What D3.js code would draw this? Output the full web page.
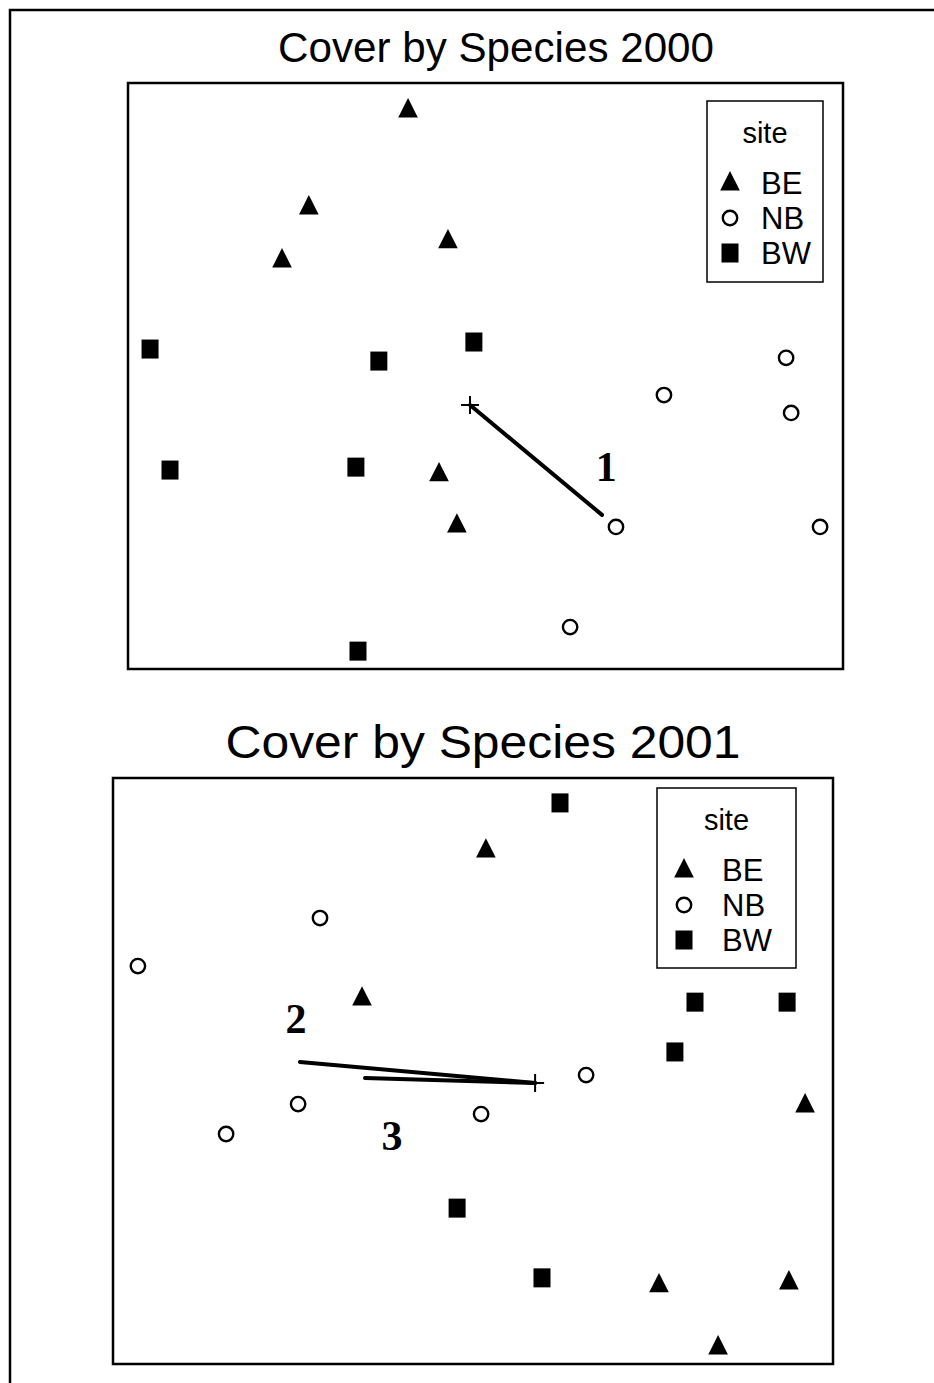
<!DOCTYPE html>
<html>
<head>
<meta charset="utf-8">
<script src="https://cdn.jsdelivr.net/npm/d3@7"></script>
<style>
  body { margin: 0; background: #fff; }
  svg { font-family: "Liberation Sans", Arial, sans-serif; }
</style>
</head>
<body>
<div id="canvas-div"></div>
<script>
// NMDS scores (arbitrary ordination units)
const sites = ['BE', 'NB', 'BW'];

const be2000 = [[-0.26, 0.908], [-0.593, 0.577], [-0.683, 0.396], [-0.126, 0.461], [-0.156, -0.334], [-0.096, -0.509]];
const nb2000 = [[1.009, 0.062], [0.599, -0.065], [1.026, -0.126], [0.438, -0.515], [1.123, -0.515], [0.284, -0.857]];
const bw2000 = [[-1.126, 0.092], [-0.358, 0.051], [-0.039, 0.116], [-1.059, -0.321], [-0.435, -0.311], [-0.428, -0.939]];
const centre2000 = [-0.052, -0.099];
const vectors2000 = [{ label: '1', end: [0.391, -0.474], lab: [0.405, -0.36] }];

const be2001 = [[0.043, 0.754], [-0.37, 0.249], [1.107, -0.116], [0.62, -0.73], [1.053, -0.72], [0.817, -0.942]];
const nb2001 = [[-0.51, 0.522], [-1.117, 0.358], [0.377, -0.014], [-0.583, -0.113], [-0.823, -0.215], [0.027, -0.147]];
const bw2001 = [[0.29, 0.915], [0.74, 0.235], [1.047, 0.235], [0.673, 0.065], [-0.053, -0.468], [0.23, -0.706]];
const centre2001 = [0.207, -0.041];
const vectors2001 = [
    { label: '2', end: [-0.577, 0.031], lab: [-0.59, 0.13] },
    { label: '3', end: [-0.36, -0.024], lab: [-0.27, -0.27] }
];

const w = 934;
const h = 1383;

const svg = d3.select('#canvas-div').append('svg').attr('width', w).attr('height', h);

// outer frame (runs off right and bottom of the scan)
svg.append('rect')
   .attr('x', 10).attr('y', 10)
   .attr('width', 1000).attr('height', 1500)
   .attr('fill', 'none').attr('stroke', '#000').attr('stroke-width', 2.5);

const triPath = d3.symbol().type(d3.symbolTriangle).size(185);

const drawMarker = (g, site, x, y) => {
    if (site == 'BE') {
        g.append('path')
         .attr('d', triPath())
         .attr('transform', `translate(${x}, ${y + 1}) scale(0.95, 1.08)`)
         .attr('fill', '#000');
    } else if (site == 'NB') {
        g.append('circle')
         .attr('cx', x).attr('cy', y).attr('r', 7.2)
         .attr('fill', '#fff').attr('stroke', '#000').attr('stroke-width', 2.4);
    } else {
        g.append('rect')
         .attr('x', x - 8.5).attr('y', y - 9.5)
         .attr('width', 17).attr('height', 19)
         .attr('fill', '#000');
    }
}

const drawPanel = (opt) => {
    const xScale = d3.scaleLinear().domain([-1.2, 1.2]).range([opt.left, opt.right]);
    const yScale = d3.scaleLinear().domain([-1, 1]).range([opt.bottom, opt.top]);
    const g = svg.append('g');

    g.append('text')
     .attr('x', opt.titleX).attr('y', opt.titleY)
     .attr('text-anchor', 'middle')
     .attr('font-size', opt.titleSize)
     .attr('textLength', opt.titleLen)
     .attr('lengthAdjust', 'spacingAndGlyphs')
     .text(opt.title);

    g.append('rect')
     .attr('x', opt.left).attr('y', opt.top)
     .attr('width', opt.right - opt.left).attr('height', opt.bottom - opt.top)
     .attr('fill', 'none').attr('stroke', '#000').attr('stroke-width', 2.5);

    const series = [['BE', opt.be], ['NB', opt.nb], ['BW', opt.bw]];
    series.forEach(s => {
        s[1].forEach(d => drawMarker(g, s[0], xScale(d[0]), yScale(d[1])));
    });

    // vectors from centroid
    opt.vectors.forEach(v => {
        g.append('line')
         .attr('x1', xScale(opt.centre[0])).attr('y1', yScale(opt.centre[1]))
         .attr('x2', xScale(v.end[0])).attr('y2', yScale(v.end[1]))
         .attr('stroke', '#000').attr('stroke-width', 4)
         .attr('stroke-linecap', 'round');
        g.append('text')
         .attr('x', xScale(v.lab[0])).attr('y', yScale(v.lab[1]))
         .attr('text-anchor', 'middle')
         .style('font-family', '"Liberation Serif", "Times New Roman", serif')
         .style('font-weight', 'bold')
         .style('font-size', '42px')
         .text(v.label);
    });

    const cx = xScale(opt.centre[0]);
    const cy = yScale(opt.centre[1]);
    g.append('path')
     .attr('d', `M${cx - 9},${cy}H${cx + 9}M${cx},${cy - 9}V${cy + 9}`)
     .attr('stroke', '#000').attr('stroke-width', 2).attr('fill', 'none');

    // legend
    const lg = g.append('g');
    lg.append('rect')
      .attr('x', opt.legX).attr('y', opt.legY)
      .attr('width', opt.legW).attr('height', opt.legH)
      .attr('fill', '#fff').attr('stroke', '#000').attr('stroke-width', 1.5);
    lg.append('text')
      .attr('x', opt.legX + opt.legW / 2).attr('y', opt.legY + 42)
      .attr('text-anchor', 'middle').attr('font-size', 29)
      .text('site');
    sites.forEach((s, i) => {
        const yy = opt.legY + 82 + i * 35;
        drawMarker(lg, s, opt.legX + opt.symDx, yy);
        lg.append('text')
          .attr('x', opt.legX + opt.txtDx).attr('y', yy + 11)
          .attr('font-size', 31)
          .text(s);
    });
}

drawPanel({
    title: 'Cover by Species 2000', titleX: 496, titleY: 62, titleSize: 42, titleLen: 436,
    left: 128, right: 843, top: 83, bottom: 669,
    be: be2000, nb: nb2000, bw: bw2000, centre: centre2000, vectors: vectors2000,
    legX: 707, legY: 101, legW: 116, legH: 181, symDx: 23, txtDx: 54
});

drawPanel({
    title: 'Cover by Species 2001', titleX: 483, titleY: 758, titleSize: 46, titleLen: 515,
    left: 113, right: 833, top: 778, bottom: 1364,
    be: be2001, nb: nb2001, bw: bw2001, centre: centre2001, vectors: vectors2001,
    legX: 657, legY: 788, legW: 139, legH: 180, symDx: 27, txtDx: 65
});
</script>
</body>
</html>
